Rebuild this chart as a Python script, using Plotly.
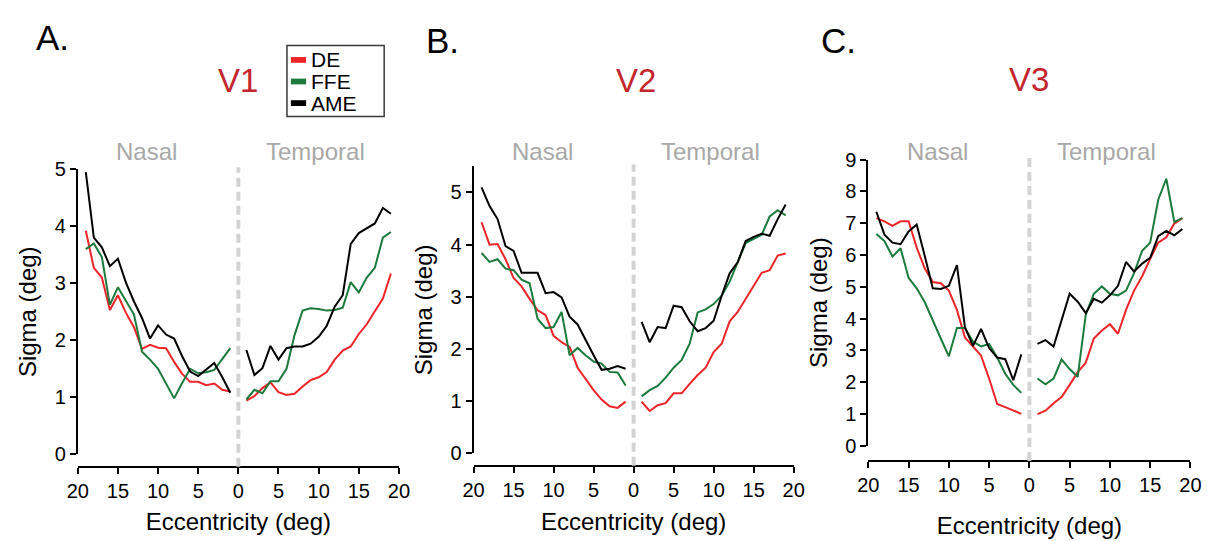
import plotly.graph_objects as go

W, H = 1226, 541

# ---------------- data ----------------
NASAL_ECC = list(range(19, 0, -1))      # 19 ... 1 deg
TEMPORAL_ECC = list(range(1, 20))       # 1 ... 19 deg
X_TICK_VALUES = [-20, -15, -10, -5, 0, 5, 10, 15, 20]
X_TICK_LABELS = ["20", "15", "10", "5", "0", "5", "10", "15", "20"]
GROUPS = ["DE", "FFE", "AME"]
PANEL_LABELS = ["A.", "B.", "C."]
AREAS = ["V1", "V2", "V3"]

# V1
V1_DE_NASAL = [3.92, 3.27, 3.10, 2.53, 2.79, 2.48, 2.23, 1.85, 1.92, 1.87, 1.86, 1.62, 1.41, 1.27, 1.27, 1.21, 1.24, 1.13, 1.10]
V1_FFE_NASAL = [3.60, 3.70, 3.46, 2.62, 2.93, 2.68, 2.45, 1.80, 1.66, 1.50, 1.23, 0.98, 1.25, 1.50, 1.42, 1.44, 1.48, 1.66, 1.86]
V1_AME_NASAL = [4.95, 3.80, 3.63, 3.30, 3.43, 3.01, 2.68, 2.39, 2.03, 2.26, 2.10, 2.03, 1.72, 1.45, 1.37, 1.48, 1.60, 1.35, 1.08]
V1_DE_TEMPORAL = [0.94, 1.02, 1.16, 1.26, 1.09, 1.04, 1.06, 1.19, 1.30, 1.35, 1.44, 1.66, 1.82, 1.89, 2.11, 2.28, 2.51, 2.73, 3.17]
V1_FFE_TEMPORAL = [0.96, 1.13, 1.07, 1.28, 1.28, 1.50, 2.09, 2.52, 2.56, 2.55, 2.52, 2.53, 2.57, 3.02, 2.84, 3.10, 3.27, 3.80, 3.90]
V1_AME_TEMPORAL = [1.83, 1.39, 1.51, 1.90, 1.66, 1.86, 1.89, 1.89, 1.94, 2.06, 2.25, 2.59, 2.79, 3.69, 3.88, 3.97, 4.05, 4.32, 4.22]

# V2
V2_DE_NASAL = [4.43, 4.00, 4.01, 3.72, 3.36, 3.20, 2.96, 2.74, 2.65, 2.25, 2.13, 2.04, 1.64, 1.42, 1.21, 1.03, 0.90, 0.87, 0.99]
V2_FFE_NASAL = [3.84, 3.67, 3.72, 3.54, 3.51, 3.33, 3.26, 2.58, 2.40, 2.42, 2.71, 1.88, 2.02, 1.88, 1.76, 1.72, 1.56, 1.55, 1.30]
V2_AME_NASAL = [5.10, 4.74, 4.49, 3.97, 3.88, 3.46, 3.46, 3.46, 3.07, 3.09, 2.99, 2.62, 2.47, 2.16, 1.88, 1.60, 1.62, 1.67, 1.62]
V2_DE_TEMPORAL = [0.99, 0.81, 0.92, 0.96, 1.15, 1.15, 1.33, 1.50, 1.64, 1.94, 2.10, 2.53, 2.71, 2.96, 3.23, 3.46, 3.51, 3.79, 3.83]
V2_FFE_TEMPORAL = [1.09, 1.21, 1.29, 1.45, 1.64, 1.79, 2.10, 2.70, 2.76, 2.86, 3.02, 3.29, 3.66, 4.03, 4.11, 4.19, 4.54, 4.66, 4.56]
V2_AME_TEMPORAL = [2.52, 2.13, 2.42, 2.40, 2.83, 2.80, 2.53, 2.34, 2.40, 2.54, 3.02, 3.45, 3.66, 4.07, 4.15, 4.21, 4.17, 4.49, 4.77]

# V3
V3_DE_NASAL = [7.16, 7.06, 6.92, 7.06, 7.06, 6.24, 5.58, 5.15, 5.11, 4.88, 4.27, 3.40, 3.12, 2.83, 2.11, 1.31, 1.21, 1.10, 1.00]
V3_FFE_NASAL = [6.66, 6.44, 5.95, 6.21, 5.28, 4.95, 4.52, 3.92, 3.37, 2.81, 3.70, 3.70, 3.27, 3.12, 3.20, 2.77, 2.26, 1.91, 1.66]
V3_AME_NASAL = [7.36, 6.64, 6.39, 6.34, 6.74, 6.96, 5.98, 4.95, 4.93, 5.03, 5.68, 3.72, 3.14, 3.67, 3.07, 2.77, 2.72, 2.06, 2.87]
V3_DE_TEMPORAL = [0.99, 1.10, 1.33, 1.53, 1.91, 2.31, 2.61, 3.37, 3.62, 3.82, 3.52, 4.27, 4.88, 5.33, 5.88, 6.39, 6.56, 6.99, 7.16]
V3_FFE_TEMPORAL = [2.11, 1.93, 2.11, 2.71, 2.41, 2.16, 4.12, 4.78, 5.01, 4.78, 4.73, 4.88, 5.43, 6.13, 6.39, 7.74, 8.40, 7.04, 7.16]
V3_AME_TEMPORAL = [3.20, 3.32, 3.12, 3.97, 4.78, 4.53, 4.17, 4.62, 4.50, 4.73, 5.03, 5.78, 5.48, 5.73, 5.91, 6.59, 6.76, 6.62, 6.82]

Y_MAX = [5, 5.5, 9]

SERIES = [
    {"DE": (V1_DE_NASAL, V1_DE_TEMPORAL), "FFE": (V1_FFE_NASAL, V1_FFE_TEMPORAL), "AME": (V1_AME_NASAL, V1_AME_TEMPORAL)},
    {"DE": (V2_DE_NASAL, V2_DE_TEMPORAL), "FFE": (V2_FFE_NASAL, V2_FFE_TEMPORAL), "AME": (V2_AME_NASAL, V2_AME_TEMPORAL)},
    {"DE": (V3_DE_NASAL, V3_DE_TEMPORAL), "FFE": (V3_FFE_NASAL, V3_FFE_TEMPORAL), "AME": (V3_AME_NASAL, V3_AME_TEMPORAL)},
]

# ---------------- style / layout ----------------
COLORS = {"DE": "#ee2428", "FFE": "#1b7a3c", "AME": "#000000"}
FONT = "Liberation Sans, Arial, Helvetica, sans-serif"
AREA_COLOR = "#c4262e"
SIDE_COLOR = "#a8a8a8"

# pixel geometry of each panel: x-domain left/right, y px at 0 and at y max, x-axis line y
GEOM = [
    dict(x0=68, x1=395, y0=462, ytop=165, xaxis_y=475, xstand=12, lab=(42, 28), area=(231, 72)),
    dict(x0=471, x1=797, y0=461, ytop=162, xaxis_y=474, xstand=12, lab=(439, 31), area=(636, 72)),
    dict(x0=873, x1=1201, y0=453, ytop=155, xaxis_y=469, xstand=21, lab=(843, 31), area=(1037, 71)),
]


def px(x):
    return x / W


def py(y):
    return 1 - y / H


fig = go.Figure()
layout = dict(
    width=W, height=H,
    margin=dict(l=0, r=0, t=0, b=0),
    paper_bgcolor="white", plot_bgcolor="white",
    showlegend=False,
    font=dict(family=FONT, color="black"),
)
shapes = []
annotations = []

for i in range(3):
    g = GEOM[i]
    n = "" if i == 0 else str(i + 1)
    xa, ya = "x" + n, "y" + n
    for grp in GROUPS:
        nasal, temporal = SERIES[i][grp]
        fig.add_trace(go.Scatter(
            x=[-e for e in NASAL_ECC], y=nasal, mode="lines", name=grp,
            line=dict(color=COLORS[grp], width=2), xaxis=xa, yaxis=ya,
            showlegend=False, legendgroup=grp))
        fig.add_trace(go.Scatter(
            x=TEMPORAL_ECC, y=temporal, mode="lines", name=grp,
            line=dict(color=COLORS[grp], width=2), xaxis=xa, yaxis=ya,
            showlegend=False, legendgroup=grp))

    layout["xaxis" + n] = dict(
        domain=[px(g["x0"]), px(g["x1"])], range=[-20, 20],
        anchor="free", position=py(g["xaxis_y"]),
        tickmode="array", tickvals=X_TICK_VALUES, ticktext=X_TICK_LABELS,
        showline=True, linecolor="black", linewidth=2,
        ticks="outside", ticklen=6, tickwidth=2, tickcolor="black",
        showgrid=False, zeroline=False,
        tickfont=dict(size=20, family=FONT, color="black"),
        title=dict(text="Eccentricity (deg)", font=dict(size=24, family=FONT, color="black"),
                   standoff=g["xstand"]),
    )
    layout["yaxis" + n] = dict(
        domain=[py(g["y0"]), py(g["ytop"])], range=[0, Y_MAX[i]],
        anchor=xa, tick0=0, dtick=1,
        showline=True, linecolor="black", linewidth=2,
        ticks="outside", ticklen=6, tickwidth=2, tickcolor="black",
        showgrid=False, zeroline=False,
        tickfont=dict(size=20, family=FONT, color="black"),
        title=dict(text="Sigma (deg)", font=dict(size=24, family=FONT, color="black"), standoff=11),
    )

    # dashed midline at eccentricity 0
    shapes.append(dict(type="line", xref=xa, yref="paper", x0=0, x1=0,
                       y0=py(g["xaxis_y"]), y1=py(g["ytop"] - 2),
                       line=dict(color="#d3d3d3", width=4, dash="9px,5px"), layer="above"))

    annotations += [
        dict(text=PANEL_LABELS[i], xref="paper", yref="paper", x=px(g["lab"][0]), y=py(g["lab"][1]),
             showarrow=False, xanchor="center", yanchor="middle",
             font=dict(size=35, family=FONT, color="black")),
        dict(text=AREAS[i], xref="paper", yref="paper", x=px(g["area"][0]), y=py(g["area"][1]),
             showarrow=False, xanchor="center", yanchor="middle",
             font=dict(size=33, family=FONT, color=AREA_COLOR)),
        dict(text="Nasal", xref=xa, yref="paper", x=-11.4, y=py(146),
             showarrow=False, xanchor="center", yanchor="middle",
             font=dict(size=24, family=FONT, color=SIDE_COLOR)),
        dict(text="Temporal", xref=xa, yref="paper", x=9.6, y=py(146),
             showarrow=False, xanchor="center", yanchor="middle",
             font=dict(size=24, family=FONT, color=SIDE_COLOR)),
    ]

# legend (drawn as a framed key)
LEG_Y = [51, 73.5, 96]
shapes.append(dict(type="rect", xref="paper", yref="paper",
                   x0=px(281), x1=px(380), y0=py(110), y1=py(36),
                   line=dict(color="#3a3a3a", width=1.5), fillcolor="white", layer="above"))
for grp, yc in zip(GROUPS, LEG_Y):
    shapes.append(dict(type="rect", xref="paper", yref="paper",
                       x0=px(285), x1=px(300.5), y0=py(yc + 3), y1=py(yc - 3),
                       line=dict(width=0), fillcolor=COLORS[grp], layer="above"))
    annotations.append(dict(text=grp, xref="paper", yref="paper", x=px(304), y=py(yc),
                            showarrow=False, xanchor="left", yanchor="middle",
                            borderpad=0,
                            font=dict(size=21, family=FONT, color="black")))

layout["shapes"] = shapes
layout["annotations"] = annotations
fig.update_layout(**layout)
fig.write_html("out.html")
